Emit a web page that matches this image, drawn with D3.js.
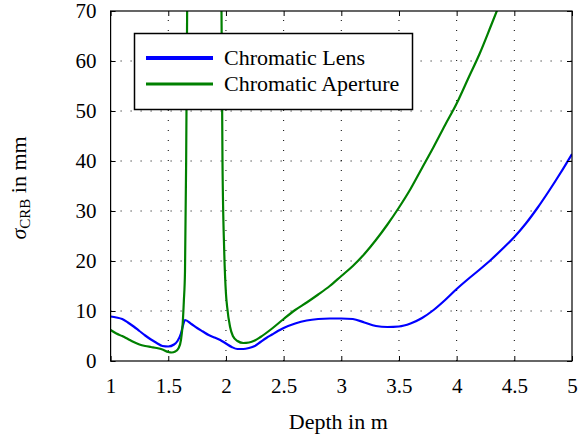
<!DOCTYPE html>
<html><head><meta charset="utf-8">
<script src="https://cdn.jsdelivr.net/npm/d3@7/dist/d3.min.js"></script>
<style>
body{margin:0;background:#fff;}
text{font-family:"Liberation Serif","Times New Roman",serif;fill:#000;}
</style></head>
<body><svg id="c" width="585" height="437"></svg>
<script>
const lensDepth = [1.00,1.05,1.10,1.15,1.20,1.25,1.30,1.35,1.40,1.45,1.50,1.55,1.58,1.61,1.63,1.645,1.70,1.75,1.80,1.85,1.90,1.95,2.00,2.05,2.10,2.15,2.20,2.25,2.30,2.35,2.40,2.45,2.50,2.60,2.70,2.80,2.90,3.00,3.10,3.20,3.30,3.40,3.50,3.60,3.70,3.80,3.90,4.00,4.10,4.20,4.30,4.40,4.50,4.60,4.70,4.80,4.90,5.00];
const lensValues = [8.9,8.7,8.4,7.7,6.9,6.0,5.1,4.3,3.6,3.0,2.9,3.3,4.0,5.5,7.3,8.2,7.4,6.6,5.9,5.2,4.7,4.2,3.5,2.8,2.4,2.4,2.6,3.0,3.8,4.6,5.3,6.0,6.6,7.5,8.1,8.4,8.5,8.5,8.4,7.7,7.0,6.8,6.9,7.5,8.6,10.2,12.2,14.4,16.4,18.3,20.3,22.5,24.8,27.5,30.6,34.0,37.6,41.4];
const apertureDepth = [1.00,1.05,1.10,1.15,1.20,1.25,1.30,1.35,1.40,1.45,1.50,1.53,1.56,1.59,1.61,1.625,1.635,1.645,1.655,1.665,1.68,1.80,1.95,1.96,1.97,1.985,2.00,2.01,2.035,2.06,2.10,2.15,2.20,2.25,2.30,2.40,2.50,2.60,2.70,2.80,2.90,3.00,3.10,3.20,3.30,3.40,3.50,3.60,3.70,3.80,3.90,4.00,4.10,4.20,4.30,4.40];
const apertureValues = [6.2,5.5,5.0,4.4,3.8,3.3,3.0,2.8,2.6,2.3,1.8,1.7,1.9,2.6,4.2,7.5,12,18,40,75,150,200,150,75,40,22,13.5,10.9,6.9,5.0,4.0,3.6,3.7,4.1,4.8,6.5,8.4,10.2,11.7,13.3,15.0,17.0,19.0,21.4,24.2,27.3,30.7,34.4,38.6,42.8,47.2,51.5,56.5,61.5,67.2,73.0];
const xTicks = [1,1.5,2,2.5,3,3.5,4,4.5,5];
const yTicks = [0,10,20,30,40,50,60,70];
const seriesNames = ["Chromatic Lens","Chromatic Aperture"];
const seriesColors = ["#0000ff","#008000"];

const FONT = "Liberation Serif";
const svg = d3.select("#c");
const L=110.6, R=572, T=11, B=361;
const x = d3.scaleLinear().domain([1,5]).range([L,R]);
const y = d3.scaleLinear().domain([0,70]).range([B,T]);

// grid
const g = svg.append("g");
xTicks.forEach(t=>{
  if(t>1 && t<5) g.append("line").attr("x1",x(t)).attr("x2",x(t)).attr("y1",B).attr("y2",T)
   .attr("stroke","#000").attr("stroke-width",1).attr("stroke-dasharray","1,9");
});
yTicks.forEach(t=>{
  if(t>0 && t<70) g.append("line").attr("x1",L).attr("x2",R).attr("y1",y(t)).attr("y2",y(t))
   .attr("stroke","#000").attr("stroke-width",1).attr("stroke-dasharray","1,9");
});

// clip
svg.append("clipPath").attr("id","clip").append("rect").attr("x",L).attr("y",T).attr("width",R-L).attr("height",B-T);

const line = d3.line().x(d=>x(d[0])).y(d=>y(d[1])).curve(d3.curveMonotoneX);
const lensData = lensDepth.map((d,i)=>[d,lensValues[i]]);
const apData = apertureDepth.map((d,i)=>[d,apertureValues[i]]);
svg.append("path").attr("d",line(lensData)).attr("fill","none").attr("stroke",seriesColors[0]).attr("stroke-width",2.2).attr("clip-path","url(#clip)");
svg.append("path").attr("d",line(apData)).attr("fill","none").attr("stroke",seriesColors[1]).attr("stroke-width",2.2).attr("clip-path","url(#clip)");

// axes
const tickLen=5;
const xb = svg.append("g").attr("transform",`translate(0,${B})`)
  .call(d3.axisBottom(x).tickValues(xTicks).tickSizeInner(-tickLen).tickSizeOuter(0).tickPadding(17).tickFormat(d3.format("")));
const xt = svg.append("g").attr("transform",`translate(0,${T})`)
  .call(d3.axisTop(x).tickValues(xTicks).tickSizeInner(-tickLen).tickSizeOuter(0).tickFormat(""));
const yl = svg.append("g").attr("transform",`translate(${L},0)`)
  .call(d3.axisLeft(y).tickValues(yTicks).tickSizeInner(-tickLen).tickSizeOuter(0).tickPadding(14));
const yr = svg.append("g").attr("transform",`translate(${R},0)`)
  .call(d3.axisRight(y).tickValues(yTicks).tickSizeInner(-tickLen).tickSizeOuter(0).tickFormat(""));
[xb,xt,yl,yr].forEach(a=>{
  a.attr("font-family",FONT);
  a.select(".domain").remove();
  a.selectAll("line").attr("stroke","#000");
  a.selectAll("text").style("font-family",FONT).style("font-size","21px").attr("fill","#000");
});
svg.append("rect").attr("x",L).attr("y",T).attr("width",R-L).attr("height",B-T).attr("fill","none").attr("stroke","#000").attr("stroke-width",1.2);

// labels
svg.append("text").attr("x",(L+R)/2 - 3).attr("y",429).attr("text-anchor","middle").style("font-family",FONT).style("font-size","22px").text("Depth in m");
const yt = svg.append("text").attr("transform","translate(26,188) rotate(-90)").attr("text-anchor","middle").style("font-family",FONT).style("font-size","22px");
yt.append("tspan").style("font-style","italic").text("σ");
yt.append("tspan").attr("dy",4).style("font-size","15px").text("CRB");
yt.append("tspan").attr("dy",-4).text(" in mm");

// legend
const lg = svg.append("g");
lg.append("rect").attr("x",134.5).attr("y",33.5).attr("width",278).attr("height",76).attr("fill","#fff").attr("stroke","#000").attr("stroke-width",1.5);
seriesNames.forEach((n,i)=>{
  const yy = 58 + i*26;
  lg.append("line").attr("x1",146).attr("x2",213).attr("y1",yy).attr("y2",yy).attr("stroke",seriesColors[i]).attr("stroke-width",i===0?4:3);
  lg.append("text").attr("x",224).attr("y",yy+7).style("font-family",FONT).style("font-size","22px").text(n);
});
</script></body></html>
